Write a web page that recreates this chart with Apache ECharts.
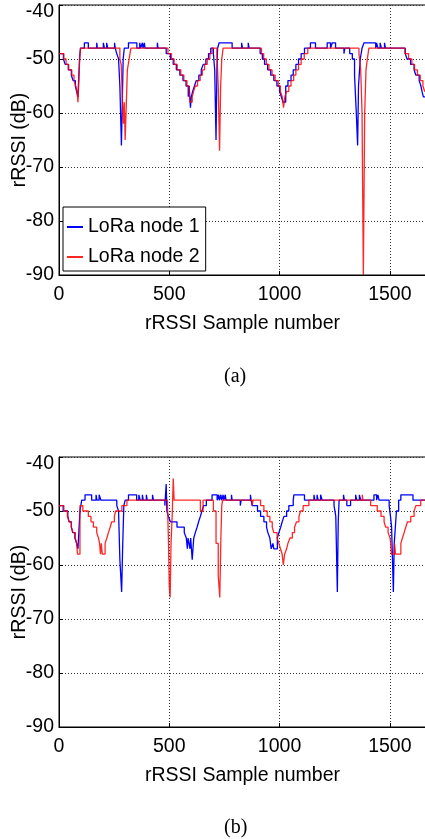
<!DOCTYPE html>
<html>
<head>
<meta charset="utf-8">
<script src="https://cdn.jsdelivr.net/npm/echarts@6/dist/echarts.min.js"></script>
<style>
  html, body { margin: 0; padding: 0; background: #fff; }
  #chart { width: 425px; height: 839px; }
</style>
</head>
<body>
<div id="chart"></div>
<script>
// rRSSI step data: [sample, dB] where the value changes
var xTicks = [0, 500, 1000, 1500];
var yTicks = [-90, -80, -70, -60, -50, -40];
var seriesNames = ["LoRa node 1", "LoRa node 2"];
var captions = ["(a)", "(b)"];

var topNode1 = [
    [0,-49],[20,-50],[28,-51],[42,-52],[56,-53],[64,-54],[74,-55],[80,-56],[86,-57],[93,-50],[97,-48],
    [115,-47],[133,-48],[171,-47],[174,-48],[201,-47],[206,-48],[216,-47],[221,-48],[252,-47],[255,-48],
    [262,-49],[270,-50],[276,-55],[283,-66],[287,-58],[291,-50],[296,-48],[315,-47],[353,-48],
    [366,-47],[370,-48],[378,-47],[381,-48],[387,-47],[390,-48],[446,-47],[449,-48],
    [486,-49],[505,-50],[518,-51],[532,-52],[548,-53],[562,-54],[576,-55],[586,-57],[590,-55],[596,-59],
    [600,-57],[606,-56],[614,-55],[622,-54],[634,-53],[645,-52],[654,-51],[666,-50],[678,-49],[688,-48],
    [700,-49],[706,-52],[712,-65],[716,-52],[719,-48],[726,-47],[785,-48],[828,-47],[832,-48],[858,-47],[862,-48],
    [912,-49],[922,-50],[932,-51],[946,-52],[960,-53],[974,-54],[988,-55],[1000,-56],[1008,-57],[1016,-58],
    [1028,-55],[1038,-54],[1052,-53],[1062,-52],[1074,-51],[1086,-50],[1098,-49],[1113,-48],
    [1140,-47],[1163,-48],[1216,-47],[1231,-48],[1239,-47],[1254,-48],[1292,-49],[1296,-48],
    [1318,-49],[1330,-50],[1340,-53],[1348,-60],[1354,-66],[1358,-55],[1366,-50],[1374,-48],
    [1383,-47],[1436,-48],[1440,-47],[1446,-48],[1456,-47],[1462,-48],[1476,-47],[1480,-48],
    [1570,-49],[1578,-50],[1594,-51],[1610,-52],[1618,-53],[1633,-54],[1641,-55],[1646,-56],[1652,-57],[1664,-57]
];
var topNode2 = [
    [0,-49],[22,-50],[32,-51],[44,-52],[58,-53],[68,-54],[76,-55],[82,-56],[86,-58],[94,-50],[98,-48],
    [276,-50],[282,-51],[288,-58],[292,-62],[296,-58],[300,-65],[304,-60],[310,-52],[318,-50],[326,-48],
    [494,-49],[510,-50],[522,-51],[536,-52],[552,-53],[566,-54],[580,-55],[590,-56],[594,-58],[604,-57],
    [610,-56],[618,-55],[628,-54],[640,-53],[650,-52],[660,-51],[672,-50],[684,-49],[694,-48],
    [716,-49],[722,-55],[728,-67],[733,-55],[738,-50],[744,-48],
    [918,-49],[928,-50],[940,-51],[952,-52],[966,-53],[980,-54],[994,-55],[1004,-56],[1012,-57],[1018,-59],
    [1024,-57],[1032,-56],[1042,-55],[1052,-54],[1064,-53],[1074,-52],[1086,-51],[1098,-50],[1112,-49],[1128,-48],
    [1360,-49],[1368,-52],[1374,-60],[1380,-90],[1386,-60],[1392,-52],[1398,-50],[1405,-48],
    [1568,-49],[1585,-50],[1600,-51],[1612,-52],[1625,-53],[1638,-54],[1650,-55],[1658,-56],[1664,-56]
];
var bottomNode1 = [
    [0,-49],[19,-50],[40,-51],[46,-52],[56,-53],[62,-54],[72,-55],[80,-56],[86,-57],[95,-50],[103,-48],
    [118,-47],[148,-48],[168,-47],[172,-48],[182,-47],[190,-48],
    [262,-49],[270,-50],[276,-59],[284,-65],[289,-56],[294,-49],[300,-48],[315,-47],[352,-48],
    [362,-47],[368,-48],[378,-47],[382,-48],[396,-47],[400,-48],[424,-47],[428,-48],
    [480,-49],[486,-45],[489,-50],[496,-51],[505,-52],[535,-53],[568,-54],[577,-55],[582,-57],[585,-55],
    [594,-57],[597,-55],[604,-59],[611,-55],[618,-54],[626,-53],[633,-52],[641,-51],[648,-50],[656,-49],[668,-48],
    [694,-47],[717,-48],[724,-47],[727,-48],[734,-47],[737,-48],[744,-47],[747,-48],[754,-47],[757,-48],
    [782,-47],[785,-48],[822,-49],[826,-48],[868,-47],[871,-48],
    [876,-49],[900,-50],[914,-51],[929,-52],[941,-53],[947,-54],[956,-55],[959,-56],[962,-57],[970,-56],[974,-57],
    [990,-55],[997,-54],[1005,-53],[1012,-52],[1020,-51],[1032,-50],[1042,-49],[1062,-48],[1065,-47],[1113,-48],
    [1156,-47],[1160,-48],[1170,-47],[1175,-48],[1186,-47],[1193,-48],
    [1247,-49],[1255,-51],[1262,-65],[1266,-52],[1270,-48],[1290,-47],[1294,-48],[1305,-49],[1322,-48],
    [1345,-47],[1350,-48],[1362,-47],[1368,-48],[1428,-47],[1440,-48],[1446,-47],[1451,-48],
    [1497,-49],[1503,-51],[1508,-53],[1512,-59],[1516,-65],[1520,-56],[1525,-53],[1530,-50],[1540,-48],
    [1550,-47],[1605,-48],[1664,-48]
];
var bottomNode2 = [
    [0,-49],[22,-50],[38,-51],[46,-52],[56,-53],[64,-54],[74,-55],[80,-56],[84,-58],
    [95,-49],[108,-50],[133,-51],[145,-52],[156,-53],[171,-54],[179,-55],[184,-56],[188,-58],[192,-56],[196,-58],
    [209,-56],[217,-55],[224,-54],[232,-53],[239,-52],[251,-51],[257,-50],[285,-49],[308,-48],
    [492,-49],[496,-55],[500,-64],[504,-66],[508,-56],[514,-50],[518,-44],[522,-48],
    [641,-50],[653,-48],[700,-50],[712,-56],[722,-62],[729,-66],[734,-55],[738,-49],[742,-48],
    [876,-49],[880,-48],
    [914,-49],[929,-50],[944,-51],[956,-52],[967,-53],[974,-54],[989,-55],[997,-56],[1004,-57],[1012,-58],
    [1017,-60],[1023,-58],[1032,-57],[1038,-56],[1047,-55],[1058,-54],[1068,-53],[1077,-52],[1088,-51],
    [1095,-50],[1107,-49],[1133,-48],[1375,-47],[1378,-48],
    [1413,-49],[1443,-50],[1460,-51],[1474,-52],[1481,-53],[1492,-54],[1501,-55],[1504,-56],[1507,-58],
    [1521,-56],[1526,-58],[1550,-56],[1557,-55],[1565,-54],[1572,-53],[1580,-52],[1595,-51],[1610,-50],
    [1618,-49],[1640,-48],[1664,-48]
];

var font = "'Liberation Sans', Arial, sans-serif";
var gridTops = [5, 457];

function xAxis(i) {
    return {
        type: "value", gridIndex: i, min: 0, max: 1664, interval: 500,
        name: "rRSSI Sample number", nameLocation: "middle", nameGap: 39, nameMoveOverlap: false,
        nameTextStyle: { fontFamily: font, fontSize: 19.5, color: "#000" },
        axisLine: { lineStyle: { color: "#000", width: 1 } },
        axisTick: { inside: true, length: 4, lineStyle: { color: "#000" } },
        axisLabel: {
            fontFamily: font, fontSize: 19.5, color: "#000", margin: 10,
            formatter: function (v) { return xTicks.indexOf(v) >= 0 ? String(v) : ""; }
        },
        splitLine: { show: true, lineStyle: { color: "#333", type: [1, 2], width: 1 } }
    };
}
function yAxis(i) {
    return {
        type: "value", gridIndex: i, min: -90, max: -40, interval: 10,
        name: "rRSSI (dB)", nameLocation: "middle", nameGap: 29, nameMoveOverlap: false,
        nameTextStyle: { fontFamily: font, fontSize: 19.5, color: "#000" },
        axisLine: { show: true, lineStyle: { color: "#000", width: 1 } },
        axisTick: { show: true, inside: true, length: 4, lineStyle: { color: "#000" } },
        axisLabel: {
            fontFamily: font, fontSize: 19.5, color: "#000", margin: 5,
            formatter: function (v) {
                if (yTicks.indexOf(v) < 0) return "";
                return v === -40 ? "{t|" + v + "}" : String(v);
            },
            rich: { t: { fontFamily: font, fontSize: 19.5, color: "#000", padding: [13, 0, 0, 0] } }
        },
        splitLine: { show: true, lineStyle: { color: "#333", type: [1, 2], width: 1 } }
    };
}
function line(name, data, i, color, opacity) {
    return {
        name: name, type: "line", xAxisIndex: i, yAxisIndex: i, data: data,
        step: "end", symbol: "none", clip: true, legendIcon: "rect",
        lineStyle: { color: color, width: 1.3, opacity: opacity },
        itemStyle: { color: color }
    };
}

var chart = echarts.init(document.getElementById("chart"), null, { renderer: "canvas" });
chart.setOption({
    animation: false,
    backgroundColor: "#fff",
    grid: gridTops.map(function (t) {
        return {
            left: 59, top: t, width: 367, height: 270, containLabel: false, outerBoundsMode: "none",
            show: true, borderColor: "#000", borderWidth: 1, backgroundColor: "transparent"
        };
    }),
    xAxis: [xAxis(0), xAxis(1)],
    yAxis: [yAxis(0), yAxis(1)],
    legend: {
        data: seriesNames, orient: "vertical", left: 63, top: 207,
        padding: [10, 6, 4, 3], itemGap: 10, itemWidth: 16, itemHeight: 1.5,
        backgroundColor: "#fff", borderColor: "#000", borderWidth: 1, borderRadius: 0,
        textStyle: { fontFamily: font, fontSize: 19.5, color: "#000", lineHeight: 20 }
    },
    series: [
        line(seriesNames[0], topNode1, 0, "#0000ff", 1),
        line(seriesNames[1], topNode2, 0, "#ff0000", 0.85),
        line(seriesNames[0], bottomNode1, 1, "#0000ff", 1),
        line(seriesNames[1], bottomNode2, 1, "#ff0000", 0.85)
    ],
    graphic: [
        { type: "text", left: 224, top: 367, style: { text: captions[0], font: "20px 'Liberation Serif', 'Times New Roman', serif", fill: "#000" } },
        { type: "text", left: 224, top: 818, style: { text: captions[1], font: "20px 'Liberation Serif', 'Times New Roman', serif", fill: "#000" } }
    ]
});
</script>
</body>
</html>
